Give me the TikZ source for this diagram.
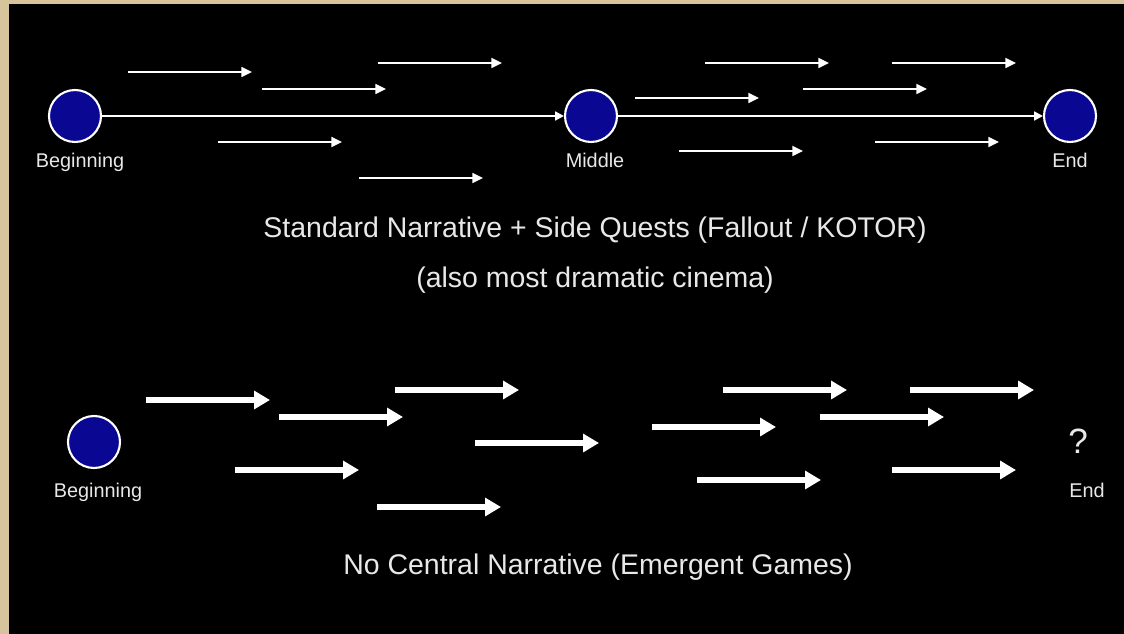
\documentclass[tikz,border=0pt]{standalone}
\usepackage{fontspec}
\setmainfont{Liberation Sans}
\usetikzlibrary{arrows.meta}

\definecolor{parchment}{RGB}{216,196,156}
\definecolor{nodeblue}{RGB}{10,8,146}
\definecolor{textgrey}{RGB}{232,232,232}

\tikzset{
  plotpoint/.style={circle, draw=white, fill=nodeblue, line width=1.2pt, minimum size=1.04cm, inner sep=0pt},
  caption/.style={text=textgrey, font=\fontsize{11.3}{13}\selectfont, anchor=base},
  title/.style={text=textgrey, font=\fontsize{16.2}{19}\selectfont, anchor=base},
  storyline/.style={draw=white, line width=1.6pt, -{Triangle[length=5pt,width=5pt]}},
  sidequest/.style={white, line width=1.4pt, -{Triangle[length=6pt,width=5.5pt]}},
  freeplay/.style={white, line width=3.4pt, -{Triangle[length=9pt,width=10pt]}},
}

\begin{document}
\begin{tikzpicture}[x=0.02cm, y=-0.02cm]
\useasboundingbox (0,0) rectangle (1124,634);

% background
\fill[parchment] (0,0) rectangle (1124,634);
\fill[black] (9,4) rectangle (1124,634);

% standard narrative: three fixed points
\node[plotpoint] (beg) at (75,116) {};
\node[plotpoint] (mid) at (591,116) {};
\node[plotpoint] (end) at (1070,116) {};

\node[caption] (begtext) at (80,168) {Beginning};
\node[caption] (midtext) at (595,168) {Middle};
\node[caption] (endtext) at (1070,168) {End};

\draw[storyline] (beg) -- (mid);
\draw[storyline] (mid) -- (end);

% side quests
\foreach \x/\y [count=\i] in {128/72, 262/89, 378/63, 218/142, 359/178,
                              705/63, 892/63, 635/98, 803/89, 679/151, 875/142} {
  \coordinate (quest\i) at (\x,\y);
  \draw[sidequest] (quest\i) -- ++(124,0);
}

\node[title] (toptitle) at (595,238) {Standard Narrative + Side Quests (Fallout / KOTOR)};
\node[title] (topnote) at (595,288) {(also most dramatic cinema)};

% no central narrative
\node[plotpoint] (start) at (94,442) {};
\node[caption] (starttext) at (98,497) {Beginning};
\node[text=textgrey, font=\fontsize{20}{24}\selectfont, anchor=base] (unknown) at (1078,453) {?};
\node[caption] (finishtext) at (1087,497) {End};

\foreach \x/\y [count=\i] in {146/400, 279/417, 235/470, 395/390, 377/507, 475/443,
                              652/427, 697/480, 723/390, 820/417, 910/390, 892/470} {
  \coordinate (free\i) at (\x,\y);
  \draw[freeplay] (free\i) -- ++(124,0);
}

\node[title] (bottitle) at (598,574) {No Central Narrative (Emergent Games)};

\end{tikzpicture}
\end{document}
